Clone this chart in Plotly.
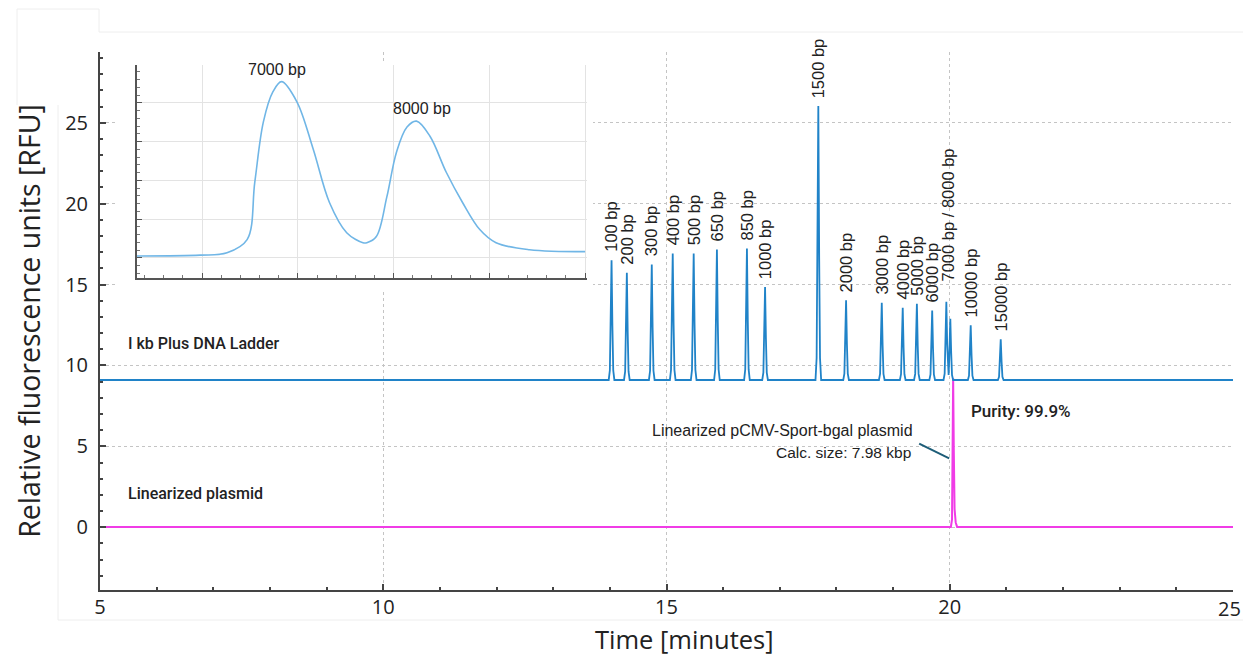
import numpy as np
import plotly.graph_objects as go

# ---------------- data ----------------
ladder_labels = ["100 bp", "200 bp", "300 bp", "400 bp", "500 bp", "650 bp", "850 bp",
                 "1000 bp", "1500 bp", "2000 bp", "3000 bp", "4000 bp", "5000 bp",
                 "6000 bp", "7000 bp", "8000 bp", "10000 bp", "15000 bp"]
ladder_time = [14.03, 14.30, 14.74, 15.11, 15.48, 15.89, 16.42, 16.74, 17.68, 18.17,
               18.80, 19.17, 19.42, 19.69, 19.94, 20.01, 20.37, 20.90]
ladder_height = [16.5, 15.72, 16.24, 16.91, 16.91, 17.16, 17.22, 14.84, 26.03, 14.02,
                 13.87, 13.57, 13.81, 13.40, 13.94, 12.89, 12.48, 11.62]
ladder_baseline = 9.1

plasmid_time = [20.06]
plasmid_height = [9.2]
plasmid_baseline = 0.02

# inset (zoom of the 7000 / 8000 bp doublet), arbitrary units
inset_x = [0.32, 0.98, 1.26, 1.47, 1.55, 1.64, 1.74, 1.83, 1.99, 2.16, 2.33, 2.51, 2.68,
           2.72, 2.82, 2.93, 3.03, 3.14, 3.24, 3.38, 3.55, 3.72, 3.90, 4.07, 4.42, 5.0]
inset_y = [0.05, 0.07, 0.13, 0.47, 1.95, 3.51, 4.29, 4.55, 4.03, 2.81, 1.43, 0.65, 0.39,
           0.39, 0.55, 1.58, 2.73, 3.38, 3.53, 3.14, 2.21, 1.43, 0.73, 0.39, 0.21, 0.16]
inset_peak_labels = ["7000 bp", "8000 bp"]
inset_peak_x = [1.83, 3.24]
inset_peak_y = [4.55, 3.53]

time_range = [5, 25]
x_tickvals = [5, 10, 15, 20, 25]
x_ticktext = ["5", "10", "15", "20", "25"]


# ---------------- peak rendering ----------------
def render(times, heights, base, dx, frac):
    dx = np.asarray(dx)
    frac = np.asarray(frac)
    xs = [time_range[0], time_range[1]]
    for t in times:
        xs.extend(list(t + dx))
    xs = np.unique(np.array(xs))
    ys = np.zeros_like(xs)
    for t, h in zip(times, heights):
        ys = np.maximum(ys, (h - base) * np.interp(xs - t, dx, frac, left=0, right=0))
    return xs, ys + base


lad_x, lad_y = render(ladder_time, ladder_height, ladder_baseline,
                      [-0.05, -0.03, -0.015, 0, 0.015, 0.03, 0.05],
                      [0, 0.08, 0.45, 1, 0.45, 0.08, 0])
pla_x, pla_y = render(plasmid_time, plasmid_height, plasmid_baseline,
                      [-0.04, -0.02, -0.01, 0, 0.012, 0.025, 0.045, 0.07],
                      [0, 0.05, 0.5, 1, 0.5, 0.12, 0.03, 0])

BLUE = "#2083c8"
MAGENTA = "#f03ce6"
INSET_BLUE = "#70b6e6"
AXIS = "#444444"
TXT = "#222222"

fig = go.Figure()
fig.add_trace(go.Scatter(x=pla_x, y=pla_y, mode="lines", line=dict(color=MAGENTA, width=2),
                         hoverinfo="skip"))
fig.add_trace(go.Scatter(x=lad_x, y=lad_y, mode="lines", line=dict(color=BLUE, width=1.8),
                         hoverinfo="skip"))
# cover subplot (white background under the inset)
fig.add_trace(go.Scatter(x=[], y=[], xaxis="x2", yaxis="y2", hoverinfo="skip"))
# inset
fig.add_trace(go.Scatter(x=inset_x, y=inset_y, xaxis="x3", yaxis="y3", mode="lines",
                         line=dict(color=INSET_BLUE, width=1.6, shape="spline", smoothing=1.0),
                         hoverinfo="skip"))

# page has an 8px body margin: figure is offset by (8, 8) and 1235 px wide
PW, PH = 1133.0, 538.0  # plot area size in px
L, T = 100.0, 52.0      # plot area position on the page


def px_x(p):
    return (p - L) / PW


def px_y(p):
    return (T + PH - p) / PH


fig.update_layout(
    width=1235, height=647,
    margin=dict(l=92, r=10, t=44, b=65),
    paper_bgcolor="white", plot_bgcolor="white",
    showlegend=False,
    font=dict(family="Open Sans, Roboto, sans-serif", color=TXT),
    xaxis=dict(
        range=time_range, tickvals=x_tickvals,
        ticktext=x_ticktext[:-1] + [""],  # last label drawn as annotation (kept inside page)
        ticks="inside", ticklen=6, tickwidth=1.5,
        tickcolor=AXIS, showline=True, linecolor=AXIS, linewidth=2,
        showgrid=True, gridcolor="#c4c4c4", griddash="dot", gridwidth=1,
        minor=dict(dtick=1, ticks="inside", ticklen=3, tickcolor=AXIS, showgrid=False),
        zeroline=False, tickfont=dict(family="Open Sans", size=20, color=TXT),
        ticklabelstandoff=-2,
    ),
    yaxis=dict(
        range=[-3.88, 29.37], tick0=0, dtick=5, ticks="inside", ticklen=6, tickwidth=1.5,
        tickcolor=AXIS, showline=True, linecolor=AXIS, linewidth=2,
        showgrid=True, gridcolor="#c4c4c4", griddash="dot", gridwidth=1,
        minor=dict(dtick=1, ticks="inside", ticklen=3, tickcolor=AXIS, showgrid=False),
        zeroline=False, tickfont=dict(family="Open Sans", size=20, color=TXT),
        ticklabelstandoff=6,
        title=dict(text="Relative fluorescence units [RFU]",
                   font=dict(family="Open Sans", size=28.5, color=TXT), standoff=16),
    ),
    xaxis2=dict(domain=[px_x(117), px_x(593)], range=[0, 1], visible=False, anchor="y2",
                fixedrange=True),
    yaxis2=dict(domain=[px_y(292), px_y(62)], range=[0, 1], visible=False, anchor="x2",
                fixedrange=True),
    xaxis3=dict(domain=[px_x(137), px_x(587)], range=[0.32, 5.02], anchor="y3",
                tick0=0, dtick=1, ticks="inside", ticklen=5, tickcolor="#555", tickwidth=1,
                showline=True, linecolor="#555", linewidth=1.5,
                showgrid=True, gridcolor="#e3e3e3", gridwidth=1,
                minor=dict(dtick=0.2, ticks="inside", ticklen=3, tickcolor="#777", showgrid=False),
                showticklabels=False, zeroline=False),
    yaxis3=dict(domain=[px_y(278), px_y(65)], range=[-0.52, 4.98], anchor="x3",
                tick0=0, dtick=1, ticks="inside", ticklen=5, tickcolor="#555", tickwidth=1,
                showline=True, linecolor="#555", linewidth=1.5,
                showgrid=True, gridcolor="#e3e3e3", gridwidth=1,
                minor=dict(dtick=0.2, ticks="inside", ticklen=3, tickcolor="#777", showgrid=False),
                showticklabels=False, zeroline=False),
)

shapes = [
    dict(type="rect", xref="x2", yref="y2", x0=0, x1=1, y0=0, y1=1,
         fillcolor="white", line=dict(width=0), layer="below"),
    # leader line from the plasmid annotation to the peak
    dict(type="line", xref="x", yref="y", x0=19.46, y0=5.17, x1=19.99, y1=4.25,
         line=dict(color="#1d5d78", width=2)),
]
# faint frame remnants of the original figure
faint = dict(color="#eeeeee", width=1)
for (x0, y0, x1, y1) in [(99, 32, 1251, 32), (99, 9, 99, 32), (17, 9, 99, 9), (17, 9, 17, 105),
                         (58, 105, 58, 620), (58, 620, 1251, 620)]:
    shapes.append(dict(type="line", xref="paper", yref="paper", x0=px_x(x0), x1=px_x(x1),
                       y0=px_y(y0), y1=px_y(y1), line=faint, layer="below"))
fig.update_layout(shapes=shapes)

ann = []
# last x tick label, nudged so it stays inside the page
ann.append(dict(x=x_tickvals[-1], y=px_y(608), xref="x", yref="paper", text=x_ticktext[-1],
                showarrow=False, xanchor="right", yanchor="middle", xshift=10,
                font=dict(family="Open Sans", size=20, color=TXT)))
# x axis title (sits slightly right of the axis centre in the original)
ann.append(dict(x=px_x(684), y=px_y(639), xref="paper", yref="paper", text="Time [minutes]",
                showarrow=False, xanchor="center", yanchor="middle",
                font=dict(family="Open Sans", size=25.5, color=TXT)))

label_font = dict(family="Liberation Sans, Arial, sans-serif", size=16.5, color=TXT)
for lab, t, h in zip(ladder_labels, ladder_time, ladder_height):
    if lab in ("7000 bp", "8000 bp"):
        continue
    ann.append(dict(x=t, y=h, xref="x", yref="y", text=lab, textangle=-90, showarrow=False,
                    xanchor="center", yanchor="bottom", yshift=6, font=label_font))
i7 = ladder_labels.index("7000 bp")
i8 = ladder_labels.index("8000 bp")
ann.append(dict(x=(ladder_time[i7] + ladder_time[i8]) / 2, y=ladder_height[i7], xref="x", yref="y",
                text="7000 bp / 8000 bp", textangle=-90, showarrow=False,
                xanchor="center", yanchor="bottom", yshift=18, font=label_font))

for lab, x, y in zip(inset_peak_labels, inset_peak_x, inset_peak_y):
    ann.append(dict(x=x, y=y, xref="x3", yref="y3", text=lab, showarrow=False,
                    xanchor="center", yanchor="bottom", yshift=2, xshift=-5 if lab == "7000 bp" else 5,
                    font=dict(family="Liberation Sans, Arial, sans-serif", size=16, color=TXT)))

trace_font = dict(family="Roboto", size=16, color=TXT, weight=500)
ann.append(dict(x=5.46, y=11.33, xref="x", yref="y", text="I kb Plus DNA Ladder",
                showarrow=False, xanchor="left", yanchor="middle", font=trace_font))
ann.append(dict(x=5.46, y=2.09, xref="x", yref="y", text="Linearized plasmid",
                showarrow=False, xanchor="left", yanchor="middle", font=trace_font))
ann.append(dict(x=19.39, y=5.97, xref="x", yref="y", text="Linearized pCMV-Sport-bgal plasmid",
                showarrow=False, xanchor="right", yanchor="middle",
                font=dict(family="Liberation Sans, Arial, sans-serif", size=16, color=TXT)))
ann.append(dict(x=19.35, y=4.62, xref="x", yref="y", text="Calc. size: 7.98 kbp",
                showarrow=False, xanchor="right", yanchor="middle",
                font=dict(family="Liberation Sans, Arial, sans-serif", size=15.5, color=TXT)))
ann.append(dict(x=20.34, y=7.16, xref="x", yref="y", text="Purity: 99.9%",
                showarrow=False, xanchor="left", yanchor="middle",
                font=dict(family="Roboto", size=17, color=TXT, weight=500)))
fig.update_layout(annotations=ann)

fig.write_html("out.html")
